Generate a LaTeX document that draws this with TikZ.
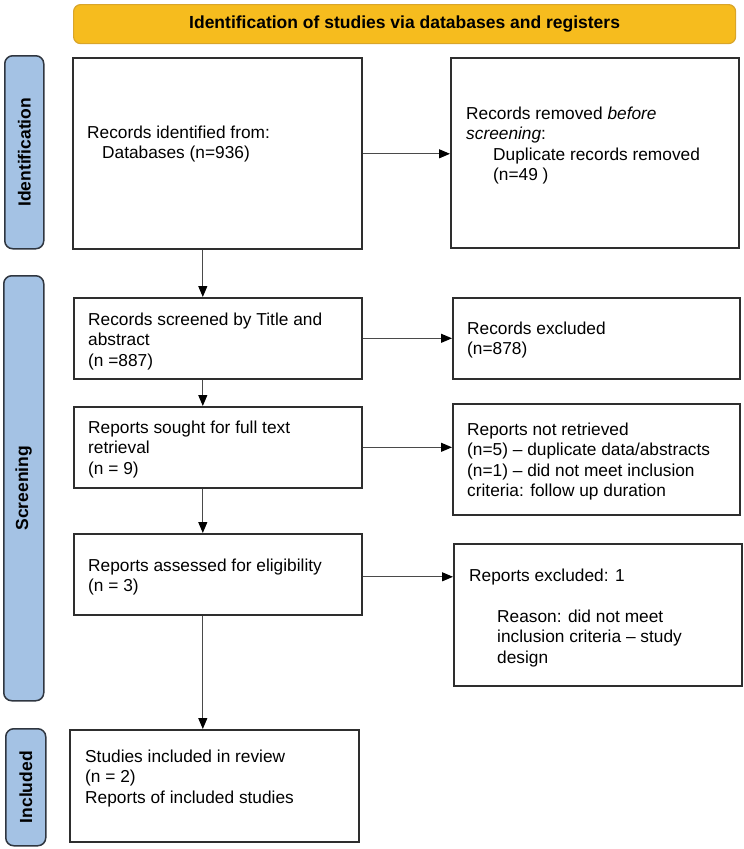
\documentclass[tikz,border=0pt]{standalone}
\usepackage{fontspec}
\setmainfont{Liberation Sans}
\usetikzlibrary{arrows.meta}
\definecolor{bannerfill}{HTML}{F6BC1E}
\definecolor{bannerline}{HTML}{D9A52A}
\definecolor{sidefill}{HTML}{A4C2E4}
\definecolor{sideline}{HTML}{2F3640}
\definecolor{boxline}{HTML}{2E2E2E}
\definecolor{arrowline}{HTML}{4A4A4A}
\tikzset{
  flowbox/.style={draw=boxline, line width=1.6bp, fill=white, inner sep=0pt, anchor=north west},
  sidebar/.style={draw=sideline, line width=1.5bp, fill=sidefill, rounded corners=8bp, inner sep=0pt, anchor=north west},
  sidelabel/.style={font=\fontsize{17.5bp}{21bp}\selectfont\bfseries, rotate=90, inner sep=0pt},
  boxtext/.style={font=\fontsize{17.3bp}{20.5bp}\selectfont, align=left, anchor=north west, inner sep=0pt},
  flowarrow/.style={draw=arrowline, line width=1.1bp, -{Triangle[length=11bp,width=9bp,color=black]}}
}
\begin{document}
\begin{tikzpicture}[x=1bp,y=-1bp]
\useasboundingbox (0,0) rectangle (744,849);
% banner
\node[draw=bannerline, line width=1.2bp, fill=bannerfill, rounded corners=7bp, inner sep=0pt,
      minimum width=662bp, minimum height=39bp, anchor=north west,
      font=\fontsize{17.5bp}{21bp}\selectfont\bfseries] (banner) at (73,4)
      {Identification of studies via databases and registers};
% sidebars
\node[sidebar, minimum width=39bp, minimum height=193bp] (sid) at (4,55) {};
\node[sidelabel] (sidt) at (sid.center) {Identification};
\node[sidebar, minimum width=40bp, minimum height=425bp] (sscr) at (3,275) {};
\node[sidelabel] (sscrt) at (sscr.center) {Screening};
\node[sidebar, minimum width=40bp, minimum height=117bp] (sinc) at (5,728) {};
\node[sidelabel] (sinct) at (sinc.center) {Included};
% boxes
\node[flowbox, minimum width=289bp, minimum height=191bp] (b1) at (72,57) {};
\node[flowbox, minimum width=288bp, minimum height=190bp] (b2) at (450,57) {};
\node[flowbox, minimum width=288bp, minimum height=81bp] (b3) at (73,297) {};
\node[flowbox, minimum width=287bp, minimum height=81bp] (b5) at (452,297) {};
\node[flowbox, minimum width=288bp, minimum height=81bp] (b4) at (73,406) {};
\node[flowbox, minimum width=287bp, minimum height=111bp] (b6) at (452,403) {};
\node[flowbox, minimum width=288bp, minimum height=81bp] (b7) at (73,533) {};
\node[flowbox, minimum width=288bp, minimum height=142bp] (b8) at (453,543) {};
\node[flowbox, minimum width=289bp, minimum height=112bp] (b9) at (69,729) {};
% texts
\node[boxtext] (t1) at (87,125.4) {Records identified from:\\\hspace*{15bp}Databases (n=936)};
\node[boxtext] (t2) at (466,106.4) {Records removed \textit{before}\\\textit{screening}:\\\hspace*{27bp}Duplicate records removed\\\hspace*{27bp}(n=49 )};
\node[boxtext] (t3) at (88,312.4) {Records screened by Title and\\abstract\\(n =887)};
\node[boxtext] (t5) at (467,321.4) {Records excluded\\(n=878)};
\node[boxtext] (t4) at (88,420.4) {Reports sought for full text\\retrieval\\(n = 9)};
\node[boxtext] (t6) at (467,422.4) {Reports not retrieved\\(n=5) – duplicate data/abstracts\\(n=1) – did not meet inclusion\\criteria: follow up duration};
\node[boxtext] (t7) at (88,558.4) {Reports assessed for eligibility\\(n = 3)};
\node[boxtext] (t8) at (469,568.4) {Reports excluded: 1\\[20.5bp]\hspace*{28bp}Reason: did not meet\\\hspace*{28bp}inclusion criteria – study\\\hspace*{28bp}design};
\node[boxtext] (t9) at (85,749.4) {Studies included in review\\(n = 2)\\Reports of included studies};
% arrows
\draw[flowarrow] ([yshift=-0.5bp]b1.east) -- ([yshift=-0.5bp]b1.east -| b2.west);
\draw[flowarrow] ([xshift=-14.5bp]b1.south) -- ([xshift=-14.5bp]b1.south |- b3.north);
\draw[flowarrow] (b3.east) -- (b3.east -| b5.west);
\draw[flowarrow] ([xshift=-15bp]b3.south) -- ([xshift=-15bp]b3.south |- b4.north);
\draw[flowarrow] (b4.east) -- (b4.east -| b6.west);
\draw[flowarrow] ([xshift=-15bp]b4.south) -- ([xshift=-15bp]b4.south |- b7.north);
\draw[flowarrow] ([yshift=-2.5bp]b7.east) -- ([yshift=-2.5bp]b7.east -| b8.west);
\draw[flowarrow] ([xshift=-15bp]b7.south) -- ([xshift=-15bp]b7.south |- b9.north);
\end{tikzpicture}
\end{document}
